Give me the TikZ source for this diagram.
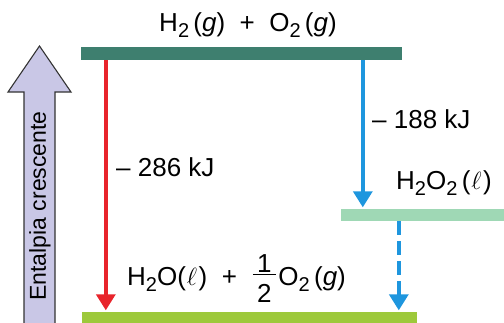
\documentclass[tikz,border=0pt]{standalone}
\usepackage{fontspec}
\setmainfont{Liberation Sans}
\usetikzlibrary{arrows.meta, positioning}

\definecolor{levelhigh}{HTML}{3E7F6F}
\definecolor{levelmid}{HTML}{9FD8B5}
\definecolor{levellow}{HTML}{9DC93B}
\definecolor{redpath}{HTML}{E8242B}
\definecolor{bluepath}{HTML}{1E96DE}
\definecolor{enthfill}{HTML}{C9C7E6}

\newcommand{\chsub}[1]{\raisebox{-0.45ex}{\fontsize{20}{20}\selectfont #1}}
\newcommand{\liq}{(\kern1pt$\ell$\kern1.5pt)}
\newcommand{\half}{\makebox[27pt][l]{%
  \rlap{\makebox[26pt]{\raisebox{13pt}{1}}}%
  \rlap{\makebox[26pt]{\raisebox{-17pt}{2}}}%
  \rlap{\kern1.5pt\rule[10pt]{23pt}{1.4pt}}}}

\begin{document}
\begin{tikzpicture}[x=1pt, y=-1pt,
    level/.style={rectangle, inner sep=0pt, draw=none},
    label/.style={font=\fontsize{26}{28}\selectfont, inner sep=0pt, anchor=west},
    arrow/.style={-{Triangle[width=19pt,length=16pt]}, line width=3.4pt, shorten >=1.5pt}
]
\useasboundingbox (0,0) rectangle (504,322);

%% ---- enthalpy axis (big arrow at left) ----
\draw [fill=enthfill, draw=black!80, line width=1.1pt, line join=miter]
    (24,324) -- (24,92) -- (8,92) -- (39.5,46) -- (71,92) -- (55,92) -- (55,324);
\node [font=\fontsize{23}{25}\selectfont, rotate=90] (axis) at (40,206) {Entalpia crescente};

%% ---- enthalpy levels ----
\node [level, fill=levelhigh, minimum width=321pt, minimum height=13pt] (top) at (241.5,53.5) {};
\node [level, fill=levelmid,  minimum width=163pt, minimum height=12pt] (mid) at (422.5,215) {};
\node [level, fill=levellow,  minimum width=335pt, minimum height=12pt] (bot) at (249.5,318) {};

%% ---- level labels ----
\node [font=\fontsize{26}{28}\selectfont, inner sep=0pt] (reag) at (248,25)
    {H\chsub{2}\,(\textit{g})\ \ +\ \ O\chsub{2}\,(\textit{g})};
\node [label] (pero) at (396,183) {H\chsub{2}O\chsub{2}\,\liq};
\node [label, anchor=base west] (prod) at (127,285)
    {H\chsub{2}O\liq\ \ +\ \ \half O\chsub{2}\,(\textit{g})};

%% ---- paths ----
\draw [arrow, redpath] ([xshift=25pt]top.south west) coordinate (r0) -- (r0 |- bot.north);
\draw [arrow, bluepath] ([xshift=22pt]mid.north west) coordinate (b1) (b1 |- top.south) -- (b1);
\draw [arrow, bluepath, dash pattern=on 14pt off 6pt]
    ([xshift=58pt]mid.south west) coordinate (b2) -- (b2 |- bot.north);

%% ---- enthalpy changes ----
\node [label] (dh1) at (116,167) {– 286 kJ};
\node [label] (dh2) at (372,119) {– 188 kJ};

\end{tikzpicture}
\end{document}
